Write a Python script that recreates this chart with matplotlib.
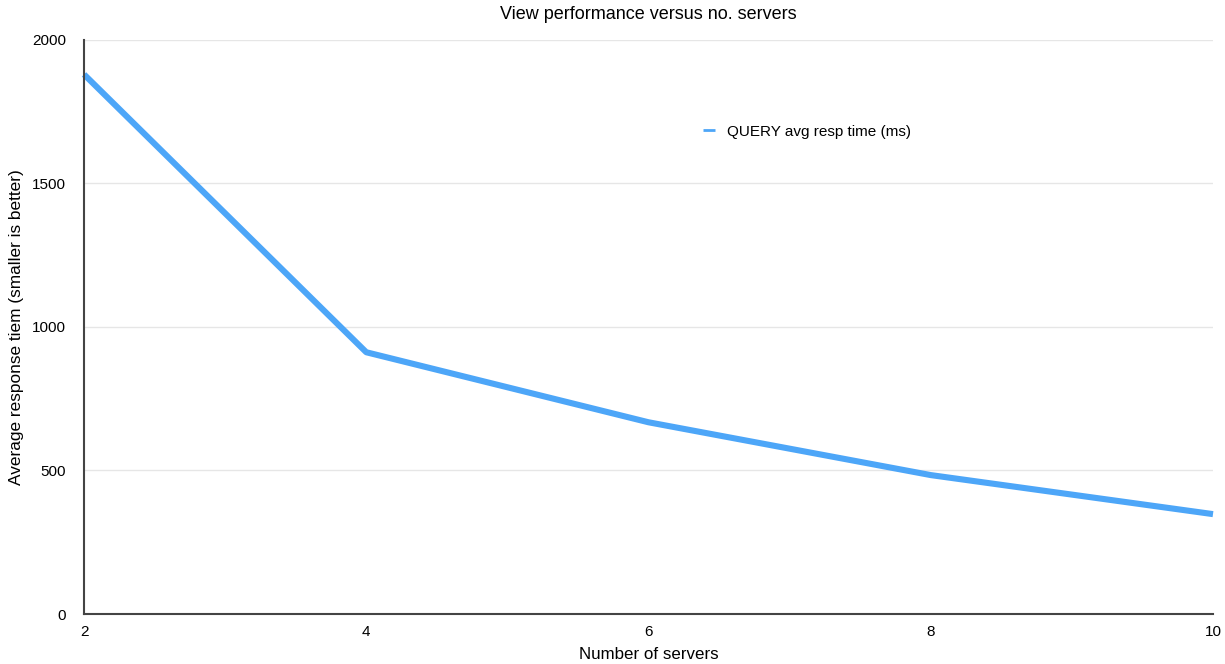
import numpy as np
import matplotlib
matplotlib.use('Agg')
import matplotlib.pyplot as plt

plt.rcParams['font.family'] = ['Liberation Sans', 'DejaVu Sans']

servers = [2, 4, 6, 8, 10]
query_resp = [1880, 912, 668, 484, 348]
x_ticks = [2, 4, 6, 8, 10]
y_ticks = [0, 500, 1000, 1500, 2000]

fig = plt.figure(figsize=(12.25, 6.64), dpi=100)
ax = fig.add_axes([0.0686, 0.0753, 0.9216, 0.8645])

ax.plot(servers, query_resp, color='#4da6f8', lw=4.4,
        solid_capstyle='butt', label='QUERY avg resp time (ms)', clip_on=False)

ax.set_xlim(2, 10)
ax.set_ylim(0, 2000)
ax.set_xticks(x_ticks)
ax.set_yticks(y_ticks)
ax.tick_params(axis='x', length=0, labelsize=11, pad=8)
ax.tick_params(axis='y', length=0, labelsize=11, pad=13)
ax.grid(axis='y', color='#e6e6e6', lw=1)
ax.set_axisbelow(True)
for s in ['top', 'right']:
    ax.spines[s].set_visible(False)
for s in ['left', 'bottom']:
    ax.spines[s].set_color('#444444')
    ax.spines[s].set_linewidth(1.5)

ax.set_title('View performance versus no. servers', fontsize=13, pad=15)
ax.set_xlabel('Number of servers', fontsize=12.2, labelpad=6)
ax.set_ylabel('Average response tiem (smaller is better)', fontsize=12.4, labelpad=6)

leg = ax.legend(loc='center left', bbox_to_anchor=(0.536, 0.84), frameon=False,
                fontsize=11, handlelength=0.8, handletextpad=0.8)
for h in leg.get_lines():
    h.set_linewidth(2)

fig.savefig('out.png', dpi=100)
